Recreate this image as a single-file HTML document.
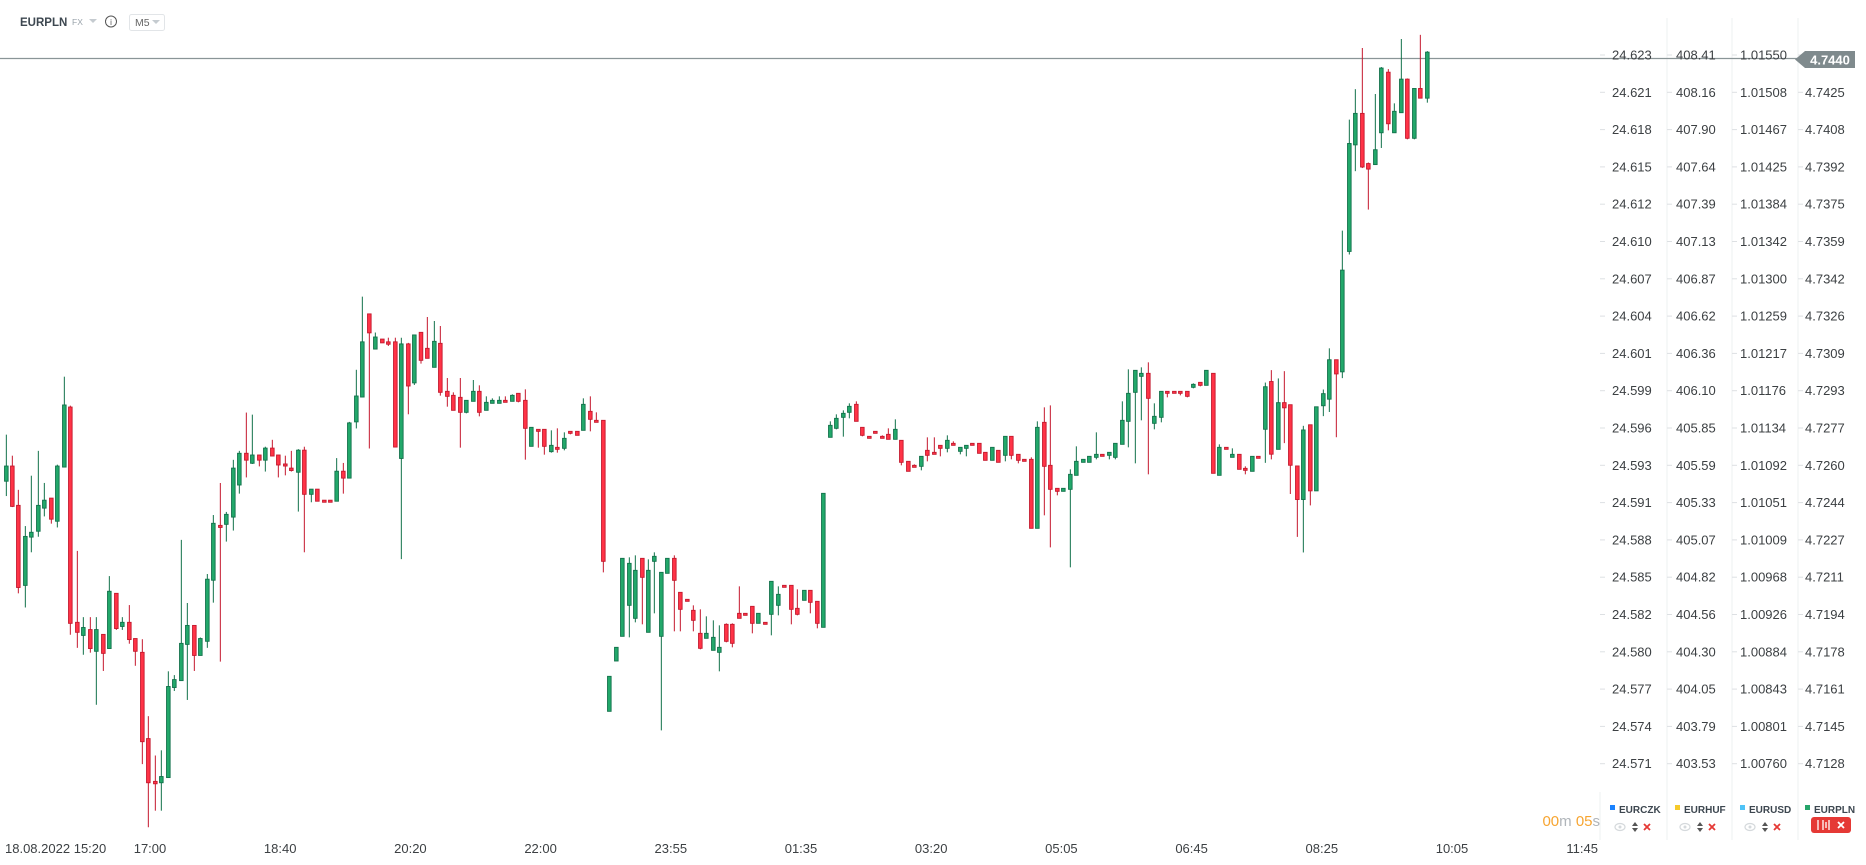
<!DOCTYPE html>
<html><head><meta charset="utf-8"><style>
html,body{margin:0;padding:0;background:#fff;width:1866px;height:865px;overflow:hidden}
svg{display:block}
text{font-family:"Liberation Sans",Arial,sans-serif}
</style></head><body>
<svg id="s" width="1866" height="865" viewBox="0 0 1866 865" xmlns="http://www.w3.org/2000/svg">
<g id="grid"></g>
<line x1="0" y1="58.5" x2="1800" y2="58.5" stroke="#8a9597" stroke-width="1.3"/>
<g id="c"></g>
<g id="ax" font-size="13" fill="#3c4043"></g>
<text x="20" y="26" font-size="11.5" font-weight="bold" fill="#3d4750">EURPLN</text>
<text x="72" y="25" font-size="8.5" fill="#9aa3ab">FX</text>
<path d="M89 19 L97 19 L93 23 Z" fill="#c5cbd0"/>
<circle cx="111" cy="21.5" r="5.5" fill="none" stroke="#555" stroke-width="1"/>
<text x="111" y="25" font-size="8" fill="#555" text-anchor="middle">i</text>
<rect x="129.5" y="14.5" width="35" height="16" rx="2" fill="#fff" stroke="#e2e5e8"/>
<text x="135" y="26" font-size="10.5" fill="#666">M5</text>
<path d="M152 20 L160 20 L156 24 Z" fill="#c5cbd0"/>
<path d="M1795 59.5 L1805 51 L1855 51 L1855 68 L1805 68 Z" fill="#7f8a8d"/>
<text x="1830" y="64.5" font-size="13" font-weight="bold" fill="#fff" text-anchor="middle">4.7440</text>
<text x="1600" y="826" font-size="15" text-anchor="end"><tspan fill="#f7a531">00</tspan><tspan fill="#b0b5ba">m </tspan><tspan fill="#f7a531">05</tspan><tspan fill="#b0b5ba">s</tspan></text>
<g id="leg" font-size="10" font-weight="bold" fill="#3d4750"></g>
</svg>
<script>
var NS="http://www.w3.org/2000/svg";
function el(p,t,a,tx){var e=document.createElementNS(NS,t);for(var k in a)e.setAttribute(k,a[k]);if(tx!=null)e.textContent=tx;p.appendChild(e);return e;}
var grid=document.getElementById('grid'),ax=document.getElementById('ax'),cg=document.getElementById('c'),leg=document.getElementById('leg');
[1667,1732,1798].forEach(function(x){el(grid,'line',{x1:x,y1:18,x2:x,y2:840,stroke:'#eef0f2','stroke-width':1});});
el(grid,'line',{x1:1600,y1:792,x2:1600,y2:840,stroke:'#eef0f2','stroke-width':1});
var c1=["24.623","24.621","24.618","24.615","24.612","24.610","24.607","24.604","24.601","24.599","24.596","24.593","24.591","24.588","24.585","24.582","24.580","24.577","24.574","24.571"];
var c2=["408.41","408.16","407.90","407.64","407.39","407.13","406.87","406.62","406.36","406.10","405.85","405.59","405.33","405.07","404.82","404.56","404.30","404.05","403.79","403.53"];
var c3=["1.01550","1.01508","1.01467","1.01425","1.01384","1.01342","1.01300","1.01259","1.01217","1.01176","1.01134","1.01092","1.01051","1.01009","1.00968","1.00926","1.00884","1.00843","1.00801","1.00760"];
var c4=["","4.7425","4.7408","4.7392","4.7375","4.7359","4.7342","4.7326","4.7309","4.7293","4.7277","4.7260","4.7244","4.7227","4.7211","4.7194","4.7178","4.7161","4.7145","4.7128"];
for(var i=0;i<20;i++){var y=55+i*37.3;
 [[1600,1612,c1],[1667,1676,c2],[1732,1740,c3],[1798,1805,c4]].forEach(function(c){
  el(grid,'line',{x1:c[0],y1:y,x2:c[0]+5,y2:y,stroke:'#dde0e3'});
  if(c[2][i])el(ax,'text',{x:c[1],y:y+4.5},c[2][i]);});}
var tl=[["18.08.2022",5,'start'],["15:20",90,'middle']];
var tt=["17:00","18:40","20:20","22:00","23:55","01:35","03:20","05:05","06:45","08:25","10:05","11:45"];
tt.forEach(function(t,i){tl.push([t,150+i*130.2,'middle']);});
tl.forEach(function(t){el(ax,'text',{x:t[1],y:853,'text-anchor':t[2]},t[0]);});
[["EURCZK","#1a82ff",1610],["EURHUF","#f6ca2a",1675],["EURUSD","#4fc3f7",1740],["EURPLN","#26a56a",1805]].forEach(function(l,i){
 el(leg,'rect',{x:l[2],y:805,width:5,height:5,fill:l[1]});
 el(leg,'text',{x:l[2]+9,y:813},l[0]);
 if(i<3){var x=l[2];
  el(leg,'ellipse',{cx:x+10,cy:827,rx:5,ry:3.5,fill:'none',stroke:'#d5d9dc','stroke-width':1.2});
  el(leg,'circle',{cx:x+10,cy:827,r:1.5,fill:'#d5d9dc'});
  el(leg,'path',{d:'M'+(x+22)+' 826 L'+(x+25)+' 822 L'+(x+28)+' 826 Z M'+(x+22)+' 828 L'+(x+25)+' 832 L'+(x+28)+' 828 Z',fill:'#555'});
  el(leg,'path',{d:'M'+(x+34)+' 824 L'+(x+40)+' 830 M'+(x+40)+' 824 L'+(x+34)+' 830',stroke:'#e53935','stroke-width':1.8});
 }else{
  el(leg,'rect',{x:1811,y:817,width:40,height:16,rx:3,fill:'#e53935'});
  el(leg,'path',{d:'M1818 820 L1818 830 M1823 820 L1823 830 M1826 822 L1826 828 M1829 820 L1829 830',stroke:'#fff','stroke-width':1.3});
  el(leg,'path',{d:'M1838 822 L1844 828 M1844 822 L1838 828',stroke:'#fff','stroke-width':1.8});
 }});
// [ox, oy, yscale, candles]
var S=[
[0,292.5,0.345,[[19,503,547,412,590,'g'],[37,503,620,473,622,'r'],[55,617,855,572,872,'r'],[76,707,849,677,913,'g'],[94,695,709,531,753,'g'],[115,617,692,459,708,'g'],[133,602,625,552,649,'g'],[154,596,657,596,670,'r'],[172,503,663,499,681,'g'],[193,326,506,244,506,'g'],[211,332,959,328,992,'r'],[232,956,985,749,1030,'r'],[250,971,994,941,1050,'g'],[271,977,1032,941,1044,'r'],[289,977,1040,941,1195,'g'],[310,991,1046,991,1097,'r'],[328,866,1032,822,1032,'g'],[349,872,974,872,978,'r'],[367,956,968,941,978,'g'],[388,956,1006,906,1018,'r'],[406,1003,1040,1003,1082,'r'],[427,1043,1302,1005,1367,'r'],[445,1293,1421,1228,1550,'r'],[466,1417,1424,1342,1502,'r'],[484,1403,1421,1327,1502,'g'],[505,1142,1406,1098,1406,'g'],[523,1122,1145,1109,1155,'g'],[544,1017,1125,717,1125,'g'],[562,965,1020,900,1181,'g'],[583,965,1052,965,1097,'r'],[601,1003,1052,1000,1052,'g'],[622,831,1011,816,1030,'g'],[640,669,834,645,899,'g'],[661,675,681,552,1070,'r'],[679,643,672,636,722,'g'],[700,509,651,485,690,'g'],[718,466,558,459,583,'g'],[739,466,486,348,536,'r'],[757,471,495,354,497,'g'],[778,471,486,471,504,'r'],[796,451,486,447,519,'g'],[817,451,474,427,474,'r'],[835,471,500,471,536,'r'],[856,497,503,473,530,'r'],[874,509,516,459,519,'r'],[895,457,521,454,635,'g'],[913,457,585,447,753,'r'],[934,570,585,570,608,'g'],[952,570,605,570,605,'r'],[973,602,608,602,608,'r'],[991,602,608,602,608,'r'],[1010,518,605,480,605,'g'],[1030,518,538,494,583,'r'],[1048,378,538,375,538,'g'],[1069,300,375,224,394,'g'],[1087,143,303,12,303,'g'],[1108,62,117,62,452,'r'],[1126,129,164,116,164,'g'],[1147,135,146,135,146,'r'],[1165,143,150,131,155,'r'],[1186,143,448,131,448,'r'],[1204,149,481,131,773,'g'],[1225,149,271,146,353,'r'],[1243,123,262,123,268,'g']]],
[400,290,1/3,[[63,127,211,127,221,'r'],[82,175,205,81,205,'r'],[103,154,232,93,232,'g'],[121,160,307,108,317,'r'],[142,304,319,264,350,'r'],[160,316,361,307,361,'r'],[181,322,367,264,473,'r'],[199,331,367,331,370,'g'],[220,304,334,270,334,'g'],[238,304,367,286,379,'r'],[259,337,361,319,361,'g'],[277,331,340,325,340,'g'],[298,331,340,319,340,'g'],[316,331,337,319,337,'r'],[337,316,334,313,334,'g'],[355,310,334,310,337,'r'],[376,331,415,298,509,'r'],[394,412,469,412,469,'g'],[415,418,424,418,473,'r'],[433,418,469,418,494,'r'],[454,466,485,421,488,'g'],[472,472,478,415,488,'r'],[493,445,475,427,481,'g'],[511,424,430,424,433,'r'],[532,424,436,424,436,'r'],[550,343,421,325,421,'g'],[571,364,388,319,424,'r'],[589,391,397,367,397,'r'],[610,391,814,391,847,'r'],[628,1159,1264,1159,1264,'g'],[649,1072,1113,1072,1113,'g'],[667,805,1039,805,1039,'g'],[688,820,946,802,1042,'g'],[706,841,985,796,997,'g'],[727,805,862,805,1003,'r'],[745,841,1027,808,1027,'g'],[763,799,814,787,970,'g'],[784,847,1039,847,1321,'g'],[802,805,850,805,850,'g'],[823,805,871,796,1024,'r'],[841,907,958,907,1024,'r'],[862,928,934,928,934,'r'],[880,961,991,946,1024,'r'],[901,1030,1075,958,1078,'r'],[919,1030,1045,979,1045,'g'],[940,1042,1081,991,1081,'g'],[958,1072,1087,1006,1144,'g'],[979,1003,1054,1000,1057,'r'],[997,1003,1060,1000,1072,'r'],[1018,970,985,889,985,'r'],[1036,970,976,970,976,'r'],[1057,949,1000,949,1030,'r'],[1075,970,1000,970,1000,'g'],[1096,997,1003,997,1003,'r'],[1114,874,973,874,1036,'g'],[1135,913,946,889,976,'g'],[1153,886,892,886,892,'r'],[1174,886,958,886,1003,'r'],[1192,955,973,898,976,'r'],[1213,901,931,901,931,'g'],[1231,901,937,901,970,'r'],[1252,934,1000,934,1015,'r'],[1270,610,1012,610,1012,'g'],[1291,406,442,394,442,'g'],[1309,385,415,373,418,'g']]],
[820,350,1/3,[[70,190,202,181,260,'g'],[88,169,187,160,205,'g'],[109,163,214,154,214,'r'],[127,232,256,232,259,'r'],[148,259,265,259,265,'r'],[166,244,250,244,250,'r'],[187,259,265,256,265,'r'],[205,253,268,235,268,'r'],[226,238,268,208,268,'g'],[244,271,337,271,346,'r'],[265,334,364,334,364,'r'],[283,346,352,343,352,'r'],[304,319,349,319,361,'g'],[322,301,316,262,334,'r'],[343,307,313,262,313,'r'],[361,286,295,286,319,'r'],[382,271,295,256,307,'g'],[400,280,286,274,286,'r'],[421,292,304,292,313,'g'],[439,286,295,286,319,'g'],[457,280,286,280,286,'r'],[478,280,310,280,310,'r'],[496,307,331,307,331,'r'],[517,292,331,292,331,'g'],[535,301,337,301,337,'r'],[556,259,316,259,334,'g'],[574,259,316,259,328,'r'],[595,313,331,313,340,'r'],[613,328,334,328,334,'r'],[634,328,535,322,535,'r'],[652,232,535,214,535,'g'],[673,217,349,172,496,'r'],[691,346,418,166,592,'r'],[712,415,424,415,436,'r'],[730,415,424,415,424,'g'],[751,373,418,358,652,'g'],[769,334,376,289,376,'g'],[790,328,337,328,337,'g'],[808,319,337,319,337,'g'],[829,313,322,247,328,'g'],[847,313,319,313,319,'r'],[868,307,316,307,328,'g'],[886,280,322,280,328,'g'],[907,211,283,154,283,'g'],[925,130,214,58,292,'g'],[946,61,127,61,340,'g'],[964,70,79,52,211,'g'],[985,70,145,37,373,'r'],[1003,199,220,160,238,'g'],[1024,124,202,124,217,'g'],[1042,124,130,124,142,'r'],[1063,124,130,124,130,'r'],[1081,124,130,124,136,'r'],[1102,124,139,124,142,'r'],[1120,103,112,100,115,'g'],[1141,97,106,97,109,'r'],[1159,61,106,61,106,'g'],[1180,70,370,70,370,'r'],[1198,292,376,283,376,'g'],[1219,292,298,292,298,'r'],[1237,313,322,295,322,'g'],[1258,313,358,313,358,'r'],[1276,355,361,349,373,'r'],[1297,319,364,319,364,'g'],[1315,319,325,319,325,'r']]],
[1240,21,0.346,[[76,1057,1180,1045,1277,'g'],[94,1042,1252,1009,1267,'r'],[115,1103,1238,1033,1238,'g'],[133,1103,1118,1012,1220,'r'],[151,1109,1284,1109,1367,'r'],[172,1286,1383,1286,1491,'r'],[190,1182,1383,1170,1536,'g'],[211,1167,1358,1167,1400,'r'],[229,1115,1358,1115,1358,'g'],[250,1077,1112,1065,1142,'g'],[268,979,1093,946,1130,'g'],[289,979,1020,979,1203,'r'],[307,720,1014,606,1032,'g'],[328,354,666,285,675,'g'],[346,267,358,197,434,'g'],[367,267,422,78,425,'r'],[385,412,428,409,545,'r'],[406,372,415,211,415,'g'],[424,136,323,133,367,'g'],[445,148,297,139,316,'r'],[463,261,323,238,323,'g'],[484,168,265,52,265,'g'],[502,168,339,166,342,'r'],[523,195,339,195,342,'g'],[541,195,223,40,223,'r'],[562,90,223,87,236,'g']]]
];
S.forEach(function(s){var ox=s[0],oy=s[1],k=s[2];s[3].forEach(function(c){
 var x=ox+c[0]/3,bt=oy+c[1]*k,bb=oy+c[2]*k,wt=oy+c[3]*k,wb=oy+c[4]*k,g=c[5]=='g';
 var fill=g?'#22a86a':'#ff3346',st=g?'#11714a':'#c4182d';
 if(wb-wt>0.5)el(cg,'line',{x1:x,y1:wt,x2:x,y2:wb,stroke:st,'stroke-width':1});
 var h=Math.max(bb-bt,1.5);
 el(cg,'rect',{x:x-1.8,y:bt,width:3.6,height:h,fill:fill,stroke:st,'stroke-width':0.9});
});});
</script>
</body></html>
